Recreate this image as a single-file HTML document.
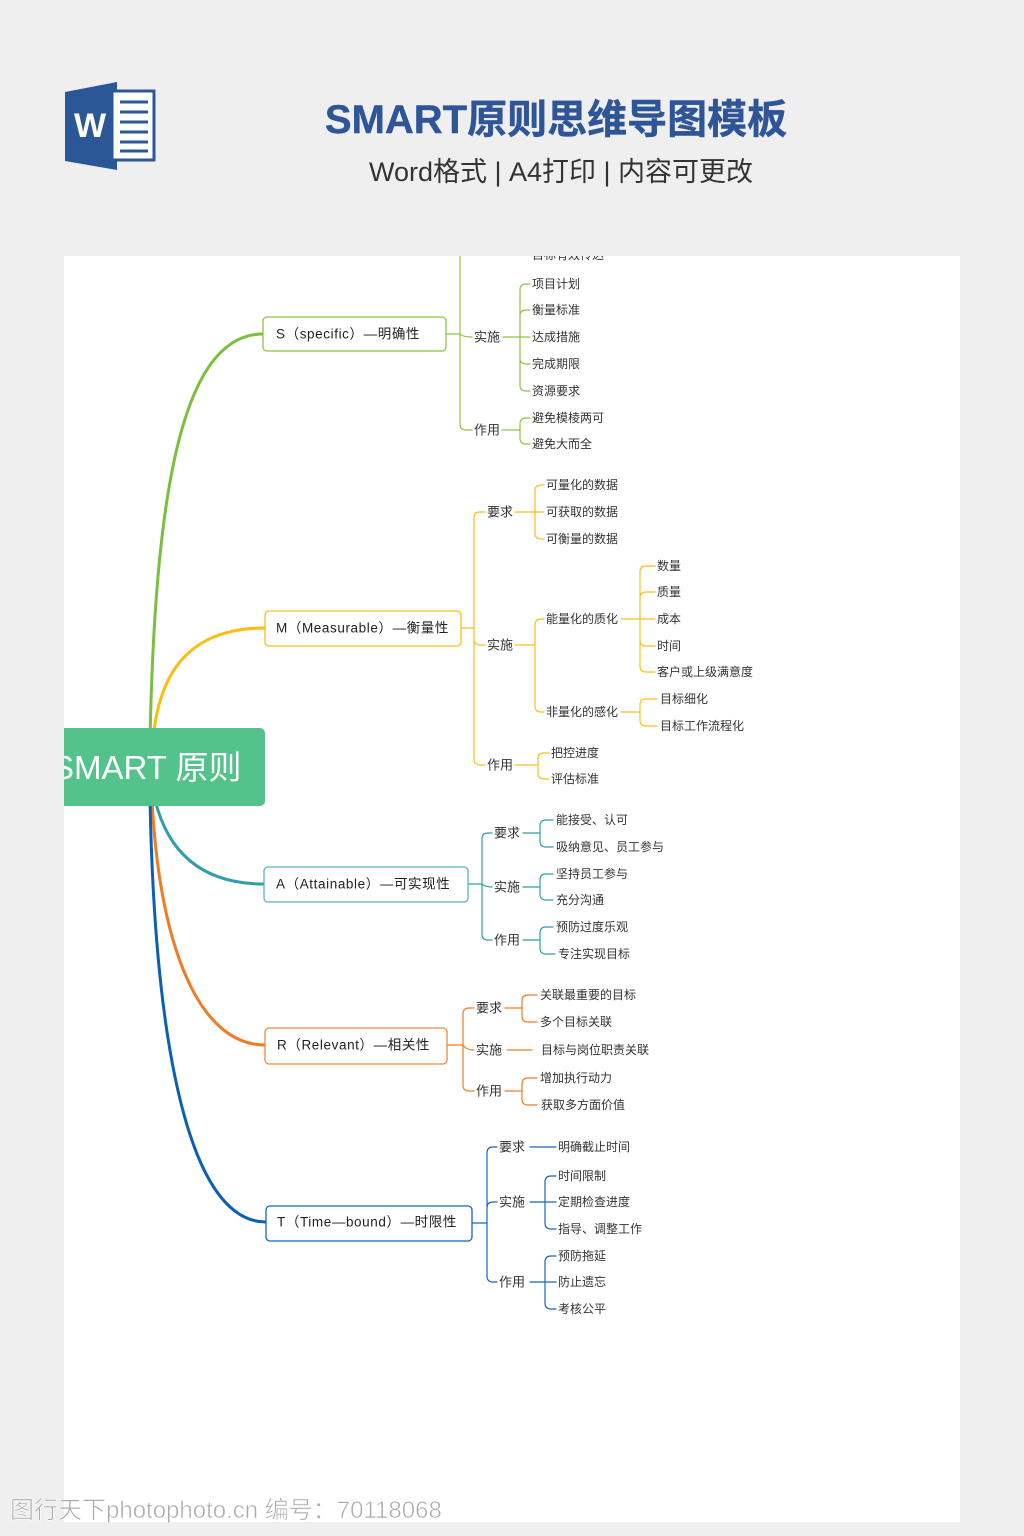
<!DOCTYPE html>
<html><head><meta charset="utf-8"><style>
html,body{margin:0;padding:0;background:#efefef;}
body{width:1024px;height:1536px;position:relative;overflow:hidden;font-family:"Liberation Sans","Noto Sans CJK SC",sans-serif;}
svg{position:absolute;left:0;top:0;}
</style></head><body>
<svg width="1024" height="1536" viewBox="0 0 1024 1536" xmlns="http://www.w3.org/2000/svg" font-family="Liberation Sans, Noto Sans CJK SC, sans-serif">
<defs><clipPath id="pc"><rect x="64" y="256" width="896" height="1266"/></clipPath></defs>
<!-- header -->
<polygon points="65,92 117,82 117,170 65,161" fill="#2b5797"/>
<rect x="112" y="91" width="42" height="69" fill="#fff" stroke="#2b5797" stroke-width="3"/>
<g stroke="#2b5797" stroke-width="3">
<line x1="120" y1="102" x2="148" y2="102"/><line x1="120" y1="112" x2="148" y2="112"/><line x1="120" y1="122" x2="148" y2="122"/><line x1="120" y1="132" x2="148" y2="132"/><line x1="120" y1="142" x2="148" y2="142"/><line x1="120" y1="151" x2="148" y2="151"/></g>
<text x="90" y="137" font-size="34" font-weight="bold" fill="#fff" text-anchor="middle">W</text>
<text x="556" y="133" font-size="40" font-weight="600" fill="#2e5597" text-anchor="middle" stroke="#2e5597" stroke-width="0.4">SMART原则思维导图模板</text>
<text x="561" y="181" font-size="27" fill="#333" text-anchor="middle">Word格式 | A4打印 | 内容可更改</text>
<rect x="64" y="256" width="896" height="1266" fill="#fff"/>
<g clip-path="url(#pc)" fill="none" stroke-linecap="round">
<path d="M150 740 C 155 500, 180 334, 263 334" stroke="#7bbf3f" stroke-width="3"/>
<path d="M153 740 C 160 660, 200 628, 265 628" stroke="#fbbc14" stroke-width="3"/>
<path d="M155 800 C 170 860, 210 884, 264 884" stroke="#2e9dac" stroke-width="3"/>
<path d="M152 800 C 160 950, 200 1045, 265 1045" stroke="#f07b22" stroke-width="3"/>
<path d="M150 800 C 155 1050, 190 1222, 266 1222" stroke="#0b5fb5" stroke-width="3"/>
<g stroke="#8cc63f" stroke-width="1.2">
<path d="M446 334 H460 M460 334 V250 M460 334 Q463 337 472 337 M460 334 V424 Q460 430 466 430 H472"/>
<path d="M503 337 H520 M520 337 V290 Q520 284 526 284 H530 M520 337 V316 Q520 310 526 310 H530 M520 337 H530 M520 337 V358 Q520 364 526 364 H530 M520 337 V385 Q520 391 526 391 H530"/>
<path d="M502 430 H520 M520 430 V424 Q520 418 526 418 H530 M520 430 V438 Q520 444 526 444 H530"/>
</g>
<g stroke="#fbbd1a" stroke-width="1.2">
<path d="M461 628 H474 M474 628 V518 Q474 512 480 512 H485 M474 628 V639 Q474 645 480 645 H485 M474 628 V759 Q474 765 480 765 H485"/>
<path d="M515 512 H535 M535 512 V491 Q535 485 541 485 H544 M535 512 H544 M535 512 V533 Q535 539 541 539 H544"/>
<path d="M515 645 H535 M535 645 V625 Q535 619 541 619 H544 M535 645 V706 Q535 712 541 712 H544"/>
<path d="M621 619 H640 M640 619 V572 Q640 566 646 566 H655 M640 619 V598 Q640 592 646 592 H655 M640 619 H655 M640 619 V640 Q640 646 646 646 H655 M640 619 V666 Q640 672 646 672 H655"/>
<path d="M621 712 H640 M640 712 V705 Q640 699 646 699 H657 M640 712 V720 Q640 726 646 726 H657"/>
<path d="M515 765 H538 M538 765 V759 Q538 753 544 753 H549 M538 765 V773 Q538 779 544 779 H549"/>
</g>
<g stroke="#2e9dac" stroke-width="1.2">
<path d="M468 884 H482 M482 884 V839 Q482 833 488 833 H492 M482 884 Q485 887 492 887 M482 884 V934 Q482 940 488 940 H492"/>
<path d="M523 833 H540 M540 833 V826 Q540 820 546 820 H553 M540 833 V841 Q540 847 546 847 H553"/>
<path d="M523 887 H540 M540 887 V880 Q540 874 546 874 H553 M540 887 V894 Q540 900 546 900 H553"/>
<path d="M523 940 H540 M540 940 V933 Q540 927 546 927 H553 M540 940 V948 Q540 954 546 954 H555"/>
</g>
<g stroke="#f07b22" stroke-width="1.2">
<path d="M447 1045 H463 M463 1045 V1014 Q463 1008 469 1008 H474 M463 1045 Q466 1050 474 1050 M463 1045 V1085 Q463 1091 469 1091 H474"/>
<path d="M505 1008 H522 M522 1008 V1001 Q522 995 528 995 H537 M522 1008 V1016 Q522 1022 528 1022 H537"/>
<path d="M507 1050 H532"/>
<path d="M505 1091 H522 M522 1091 V1084 Q522 1078 528 1078 H537 M522 1091 V1099 Q522 1105 528 1105 H537"/>
</g>
<g stroke="#1565c0" stroke-width="1.2">
<path d="M472 1223 H487 M487 1223 V1153 Q487 1147 493 1147 H497 M487 1223 V1208 Q487 1202 493 1202 H497 M487 1223 V1276 Q487 1282 493 1282 H497"/>
<path d="M530 1147 H556"/>
<path d="M530 1202 H545 M545 1202 V1182 Q545 1176 551 1176 H556 M545 1202 H556 M545 1202 V1223 Q545 1229 551 1229 H556"/>
<path d="M530 1282 H545 M545 1282 V1262 Q545 1256 551 1256 H556 M545 1282 H556 M545 1282 V1303 Q545 1309 551 1309 H556"/>
</g>
<rect x="263" y="317" width="183" height="34" rx="4" fill="#fff" stroke="#8cc63f" stroke-width="1.3"/>
<rect x="265" y="611" width="196" height="35" rx="4" fill="#fff" stroke="#fbbd1a" stroke-width="1.3"/>
<rect x="264" y="867" width="204" height="35" rx="4" fill="#fff" stroke="#5bb4c4" stroke-width="1.3"/>
<rect x="265" y="1028" width="182" height="36" rx="4" fill="#fff" stroke="#f08a3a" stroke-width="1.3"/>
<rect x="266" y="1206" width="206" height="35" rx="4" fill="#fff" stroke="#1565c0" stroke-width="1.3"/>
<rect x="40" y="728" width="225" height="78" rx="5" fill="#54c28b"/>
<text x="52" y="779" font-size="33" fill="#fff" stroke="none">SMART 原则</text>
</g>
<g font-size="13.5" fill="#222" dominant-baseline="central" letter-spacing="0.6">
<text x="276" y="334">S（specific）—明确性</text>
<text x="276" y="628">M（Measurable）—衡量性</text>
<text x="276" y="884">A（Attainable）—可实现性</text>
<text x="277" y="1045">R（Relevant）—相关性</text>
<text x="277" y="1222">T（Time—bound）—时限性</text>
</g>
<g font-size="13" fill="#333" dominant-baseline="central">
<text x="474" y="337">实施</text><text x="474" y="430">作用</text>
<text x="487" y="512">要求</text><text x="487" y="645">实施</text><text x="487" y="765">作用</text>
<text x="494" y="833">要求</text><text x="494" y="887">实施</text><text x="494" y="940">作用</text>
<text x="476" y="1008">要求</text><text x="476" y="1050">实施</text><text x="476" y="1091">作用</text>
<text x="499" y="1147">要求</text><text x="499" y="1202">实施</text><text x="499" y="1282">作用</text>
<text x="546" y="619" font-size="12">能量化的质化</text><text x="546" y="712" font-size="12">非量化的感化</text>
</g>
<g font-size="12" fill="#333" dominant-baseline="central" clip-path="url(#pc)">
<text x="532" y="255">目标有效传达</text>
<text x="532" y="284">项目计划</text><text x="532" y="310">衡量标准</text><text x="532" y="337">达成措施</text><text x="532" y="364">完成期限</text><text x="532" y="391">资源要求</text>
<text x="532" y="418">避免模棱两可</text><text x="532" y="444">避免大而全</text>
<text x="546" y="485">可量化的数据</text><text x="546" y="512">可获取的数据</text><text x="546" y="539">可衡量的数据</text>
<text x="657" y="566">数量</text><text x="657" y="592">质量</text><text x="657" y="619">成本</text><text x="657" y="646">时间</text><text x="657" y="672">客户或上级满意度</text>
<text x="660" y="699">目标细化</text><text x="660" y="726">目标工作流程化</text>
<text x="551" y="753">把控进度</text><text x="551" y="779">评估标准</text>
<text x="556" y="820">能接受、认可</text><text x="556" y="847">吸纳意见、员工参与</text>
<text x="556" y="874">坚持员工参与</text><text x="556" y="900">充分沟通</text>
<text x="556" y="927">预防过度乐观</text><text x="558" y="954">专注实现目标</text>
<text x="540" y="995">关联最重要的目标</text><text x="540" y="1022">多个目标关联</text>
<text x="541" y="1050">目标与岗位职责关联</text>
<text x="540" y="1078">增加执行动力</text><text x="541" y="1105">获取多方面价值</text>
<text x="558" y="1147">明确截止时间</text>
<text x="558" y="1176">时间限制</text><text x="558" y="1202">定期检查进度</text><text x="558" y="1229">指导、调整工作</text>
<text x="558" y="1256">预防拖延</text><text x="558" y="1282">防止遗忘</text><text x="558" y="1309">考核公平</text>
</g>
<text x="10" y="1518" font-size="24" fill="#aaa" stroke="#fff" stroke-width="0.6">图行天下photophoto.cn 编号：70118068</text>
</svg>
</body></html>
